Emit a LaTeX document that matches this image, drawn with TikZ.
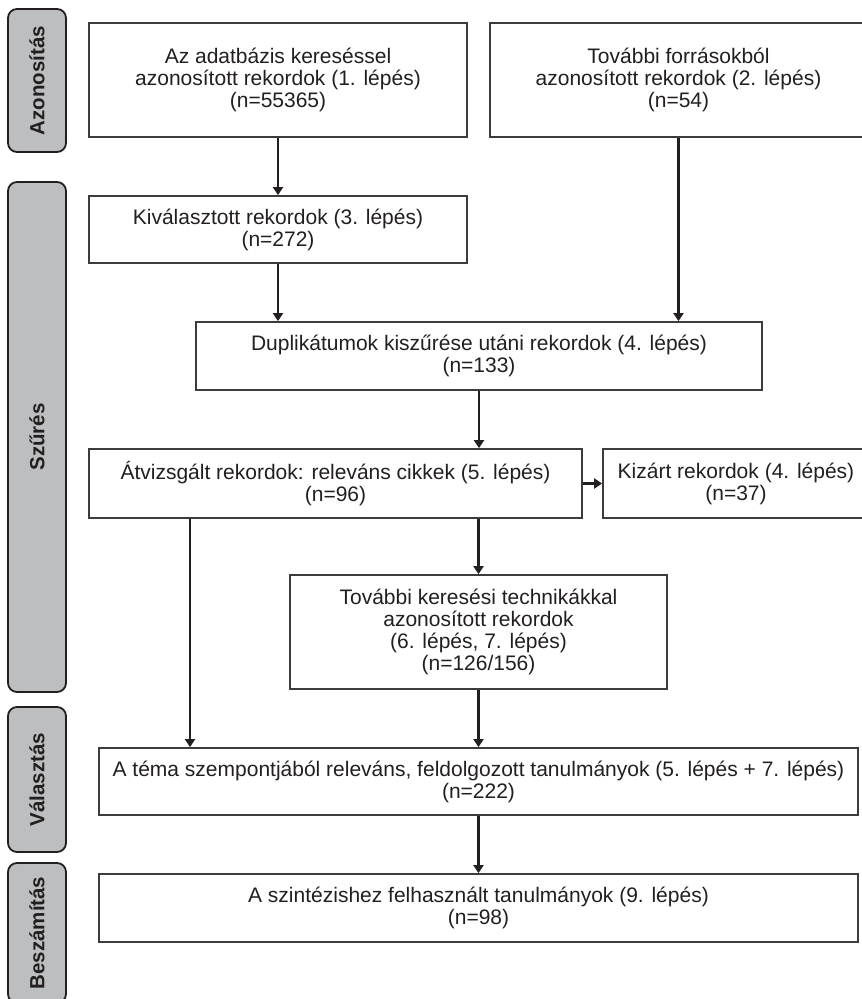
\documentclass[tikz,border=0pt]{standalone}
\usepackage{fontspec}
\setmainfont{Liberation Sans}
\usetikzlibrary{arrows.meta,calc}
\definecolor{barfill}{HTML}{BCBEC0}
\definecolor{ink}{HTML}{231F20}
\definecolor{edge}{HTML}{3C3C3C}
\begin{document}
\begin{tikzpicture}[x=1pt,y=-1pt,
  box/.style={draw=edge, line width=1.8pt, fill=white, text=ink, align=center,
    inner sep=0pt, font=\fontsize{21}{22}\selectfont},
  bar/.style={draw=ink, line width=1.8pt, fill=barfill, rounded corners=9pt,
    rotate=90, minimum height=58pt, inner sep=0pt, text=ink,
    font=\bfseries\fontsize{20.5}{22}\selectfont},
  arr/.style={draw=ink, line width=2.4pt, -{Triangle[length=8pt,width=10pt]}}]
\useasboundingbox (0,0) rectangle (862,999);
\clip (0,0) rectangle (862,999);

% side bars
\node[bar, minimum width=143pt] (s1) at (37,80.5) {Azonosítás};
\node[bar, minimum width=510pt] (s2) at (37,437) {Szűrés};
\node[bar, minimum width=145pt] (s3) at (37,779.5) {Választás};
\node[bar, minimum width=140pt] (s4) at (37,933) {Beszámítás};

% boxes
\node[box, minimum width=378pt, minimum height=114pt] (b1) at (278,80)
  {Az adatbázis kereséssel\\azonosított rekordok (1. lépés)\\(n=55365)};
\node[box, minimum width=377pt, minimum height=114pt] (b2) at (678.5,80)
  {További forrásokból\\azonosított rekordok (2. lépés)\\(n=54)};
\node[box, minimum width=378pt, minimum height=67pt] (b3) at (278,229.5)
  {Kiválasztott rekordok (3. lépés)\\(n=272)};
\node[box, minimum width=566pt, minimum height=68pt] (b4) at (479,356)
  {Duplikátumok kiszűrése utáni rekordok (4. lépés)\\(n=133)};
\node[box, minimum width=493pt, minimum height=69pt] (b5) at (335.5,483.5)
  {Átvizsgált rekordok: releváns cikkek (5. lépés)\\(n=96)};
\node[box, minimum width=266pt, minimum height=69pt] (kz) at (736,483.5)
  {Kizárt rekordok (4. lépés)\\(n=37)};
\node[box, minimum width=377pt, minimum height=114pt] (b6) at (478.5,632)
  {További keresési technikákkal\\azonosított rekordok\\(6. lépés, 7. lépés)\\(n=126/156)};
\node[box, minimum width=759pt, minimum height=67pt] (b7) at (478.5,781.5)
  {A téma szempontjából releváns, feldolgozott tanulmányok (5. lépés + 7. lépés)\\(n=222)};
\node[box, minimum width=759pt, minimum height=68pt] (b8) at (478.5,908)
  {A szintézishez felhasznált tanulmányok (9. lépés)\\(n=98)};

% connectors
\draw[arr] (b1.south) -- (b3.north);
\draw[arr] (b3.south) -- (b3.south |- b4.north);
\draw[arr] (b2.south) -- (b2.south |- b4.north);
\draw[arr] (b4.south) -- (b4.south |- b5.north);
\draw[arr] (b5.east) -- (kz.west);
\draw[arr] (b6.north |- b5.south) -- (b6.north);
\draw[arr] ([xshift=-145.5pt]b5.south) -- ([xshift=-145.5pt]b5.south |- b7.north);
\draw[arr] (b6.south) -- (b6.south |- b7.north);
\draw[arr] (b7.south) -- (b8.north);
\end{tikzpicture}
\end{document}
